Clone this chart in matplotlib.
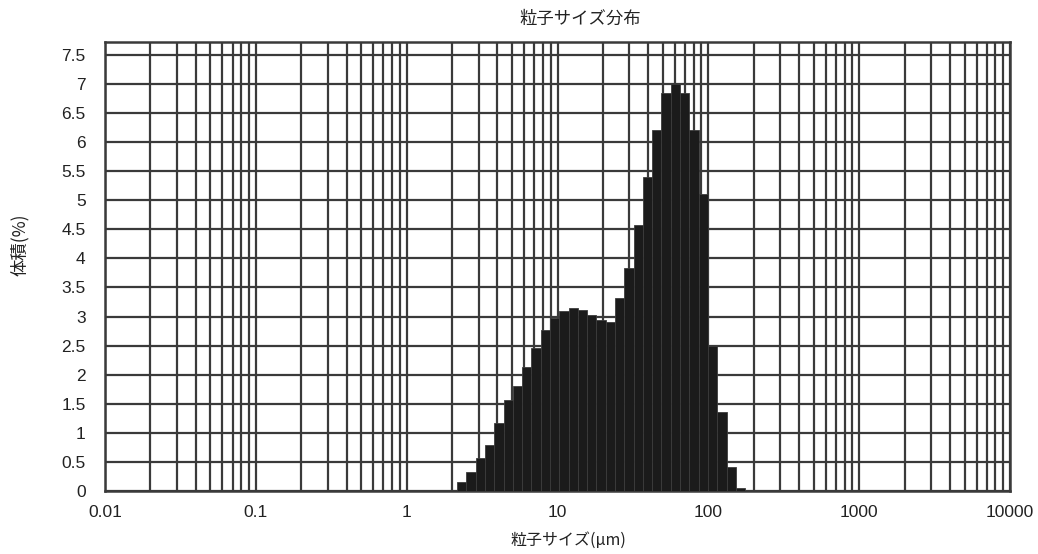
import numpy as np
import matplotlib
matplotlib.use("Agg")
import matplotlib.pyplot as plt
from matplotlib.ticker import LogLocator, FixedLocator, NullFormatter, FixedFormatter

plt.rcParams['font.family'] = ['Liberation Sans', 'Noto Sans CJK JP', 'DejaVu Sans']

# bin edges (um) and volume %
size_edges = [2.16, 2.49, 2.87, 3.30, 3.81, 4.39, 5.05, 5.82, 6.71, 7.73, 8.91,
              10.27, 11.83, 13.64, 15.72, 18.11, 20.87, 24.05, 27.72, 31.94, 36.81,
              42.42, 48.89, 56.34, 64.93, 74.82, 86.23, 99.36, 114.5, 132.0, 152.1, 175.3]
volume = [0.16, 0.33, 0.56, 0.79, 1.17, 1.57, 1.80, 2.14, 2.46, 2.77, 2.97,
          3.09, 3.14, 3.11, 3.03, 2.94, 2.91, 3.32, 3.84, 4.58, 5.40,
          6.20, 6.85, 7.00, 6.85, 6.20, 5.10, 2.50, 1.36, 0.41, 0.05]

x_ticks = [0.01, 0.1, 1, 10, 100, 1000, 10000]
x_labels = ['0.01', '0.1', '1', '10', '100', '1000', '10000']
y_ticks = [0, 0.5, 1, 1.5, 2, 2.5, 3, 3.5, 4, 4.5, 5, 5.5, 6, 6.5, 7, 7.5]
y_labels = ['0', '0.5', '1', '1.5', '2', '2.5', '3', '3.5', '4', '4.5', '5', '5.5', '6', '6.5', '7', '7.5']

grid_col = '#3a3a3a'

fig = plt.figure(figsize=(10.38, 5.54), dpi=100)
ax = fig.add_axes([0.1012, 0.1137, 0.8718, 0.8105])

edges = np.array(size_edges)
ax.bar(edges[:-1], volume, width=np.diff(edges), align='edge',
       color='#1b1b1b', edgecolor='#3c3c3c', linewidth=0.6, zorder=3)

ax.set_xscale('log')
ax.set_xlim(0.01, 10000)
ax.set_ylim(0, 7.72)

ax.xaxis.set_major_locator(FixedLocator(x_ticks))
ax.xaxis.set_major_formatter(FixedFormatter(x_labels))
ax.xaxis.set_minor_locator(LogLocator(base=10, subs=np.arange(2, 10), numticks=20))
ax.xaxis.set_minor_formatter(NullFormatter())
ax.yaxis.set_major_locator(FixedLocator(y_ticks))
ax.yaxis.set_major_formatter(FixedFormatter(y_labels))

ax.grid(which='both', axis='x', color=grid_col, linewidth=1.6, zorder=1)
ax.grid(which='major', axis='y', color=grid_col, linewidth=1.6, zorder=1)
ax.set_axisbelow(True)

ax.tick_params(which='both', length=0, labelsize=12.5, colors='#222222')
ax.tick_params(axis='x', pad=10)
ax.tick_params(axis='y', pad=14)

for s in ax.spines.values():
    s.set_color(grid_col)
    s.set_linewidth(1.8)

fig.text(580 / 1038, 1 - 19 / 554, '粒子サイズ分布', ha='center', va='center',
         fontsize=12.5, color='#222222', family=['Noto Sans CJK JP'])
fig.text(568 / 1038, 1 - 540 / 554, '粒子サイズ(μm)', ha='center', va='center',
         fontsize=11.5, color='#222222', family=['Noto Sans CJK JP', 'DejaVu Sans'])
fig.text(20 / 1038, 1 - 245 / 554, '体積(%)', ha='center', va='center', rotation=90,
         fontsize=12.5, color='#222222', family=['Noto Sans CJK JP'])

fig.savefig('out.png', dpi=100)
